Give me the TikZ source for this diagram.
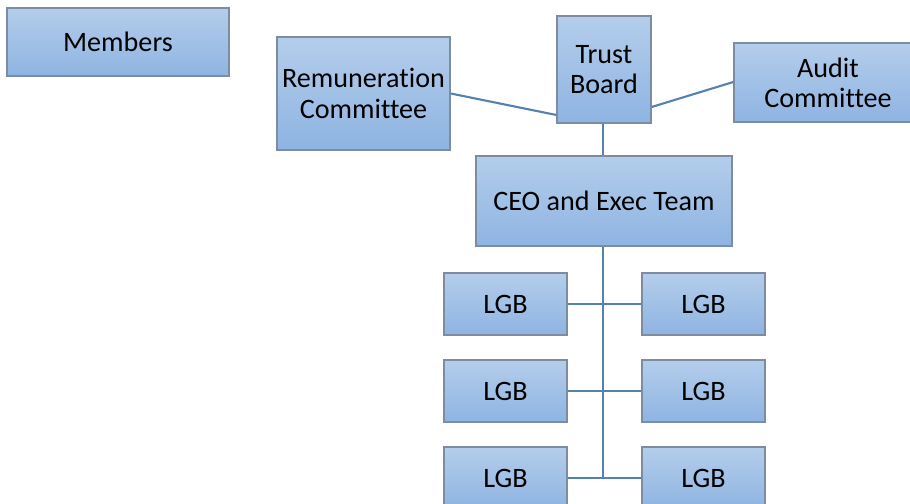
\documentclass[tikz,border=0pt]{standalone}
\usepackage{fontspec}
\setmainfont{Carlito}[Ligatures=NoCommon]
\usetikzlibrary{positioning}

\definecolor{boxtop}{RGB}{180,205,235}
\definecolor{boxbot}{RGB}{142,180,226}
\definecolor{boxline}{RGB}{125,140,160}
\definecolor{linkblue}{RGB}{84,130,175}

\tikzset{orgbox/.style={draw=boxline,line width=0.35pt,top color=boxtop,bottom color=boxbot,
                        align=center,inner sep=0pt,font=\fontsize{8pt}{8.6pt}\selectfont},
         link/.style={draw=linkblue,line width=0.6pt}}

\begin{document}
\begin{tikzpicture}[x=0.01cm,y=-0.01cm]
\useasboundingbox (0,0) rectangle (910,504);
\clip (0,0) rectangle (910,504);

\node[orgbox,minimum width=2.22cm,minimum height=0.68cm] (members) at (118,42) {Members};
\node[orgbox,minimum width=1.73cm,minimum height=1.13cm] (remun) at (363.5,93.5) {Remuneration\\Committee};
\node[orgbox,minimum width=0.94cm,minimum height=1.07cm] (trust) at (604,69.5) {Trust\\Board};
\node[orgbox,minimum width=1.88cm,minimum height=0.79cm] (audit) at (828,82.5) {Audit\\Committee};
\node[orgbox,minimum width=2.56cm,minimum height=0.90cm] (ceo) at (604,201) {CEO and Exec Team};

% local governing bodies
\foreach \y/\n in {304/1,391/2,478/3}{
  \node[orgbox,minimum width=1.23cm,minimum height=0.62cm] (lgbL\n) at (505.5,\y) {LGB};
  \node[orgbox,minimum width=1.23cm,minimum height=0.62cm] (lgbR\n) at (703.5,\y) {LGB};
}

\coordinate (spine) at (603,478);
\draw[link] (remun.east) -- (trust.west |- 0,115);
\draw[link] (trust.east |- 0,107) -- (audit.west |- 0,82);
\draw[link] (trust.south -| 603,0) -- (ceo.north -| 603,0);
\draw[link] (ceo.south -| 603,0) -- (spine);
\foreach \n in {1,2,3}{
  \draw[link] (lgbL\n.east) -- (lgbR\n.west);
}
\end{tikzpicture}
\end{document}
